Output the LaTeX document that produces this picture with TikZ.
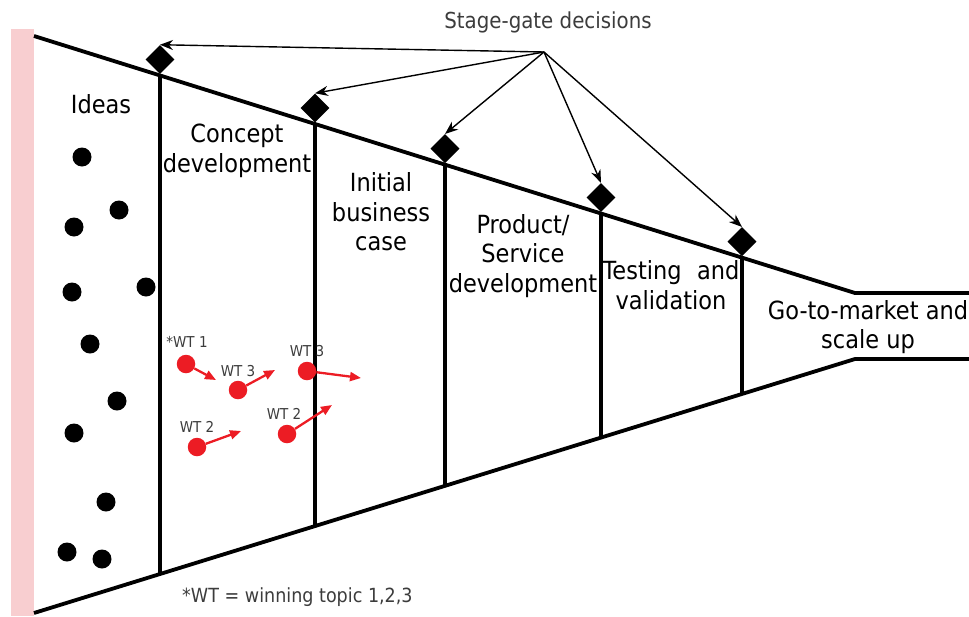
\documentclass[tikz,border=0pt]{standalone}
\usepackage{fontspec}
\setmainfont{DejaVu Sans}[FakeStretch=0.9]
\usetikzlibrary{shapes.geometric,arrows.meta,calc}
\definecolor{barpink}{RGB}{248,206,208}
\definecolor{dotred}{RGB}{236,28,36}
\definecolor{labelgray}{RGB}{60,60,60}
\begin{document}
\begin{tikzpicture}[x=1pt,y=-1pt,
  funnel/.style={line width=3.8pt},
  divider/.style={line width=3.1pt},
  gate/.style={diamond,fill=black,inner sep=0pt,minimum width=29pt,minimum height=29pt},
  idea/.style={circle,fill=black,inner sep=0pt,minimum size=19pt},
  topic/.style={circle,fill=dotred,inner sep=0pt,minimum size=18.5pt},
  topicarrow/.style={dotred,line width=2.3pt,-{Triangle[length=11pt,width=9pt]}},
  gatearrow/.style={line width=1.4pt,-{Stealth[length=13pt,width=10pt]}},
  stage/.style={font=\fontsize{25}{29.5}\selectfont,align=center,inner sep=0pt},
  wt/.style={font=\fontsize{15}{17}\selectfont,text=labelgray,inner sep=0pt}
]
\useasboundingbox (0,0) rectangle (969,616);

% pink edge strip
\fill[barpink] (11,29) rectangle (34,616);

% funnel outline
\coordinate (tA) at (34,36);
\coordinate (tB) at (855,293);
\coordinate (tC) at (969,293);
\coordinate (bA) at (34,613);
\coordinate (bB) at (855,359);
\coordinate (bC) at (969,359);
\draw[funnel] (tA) -- (tB) -- (tC);
\draw[funnel] (bA) -- (bB) -- (bC);

% stage dividers and gate diamonds
\foreach \x/\n in {160/1,315/2,445/3,601/4,742/5}{
  \pgfmathsetmacro{\f}{(\x-34)/821}
  \coordinate (top\n) at ($(tA)!\f!(tB)$);
  \coordinate (bot\n) at ($(bA)!\f!(bB)$);
  \draw[divider] (top\n) -- (bot\n);
  \node[gate] (g\n) at ($(top\n)+(0,-16)$) {};
}

% stage labels
\node[stage] (ideas) at (101,104) {Ideas};
\node[stage] (concept) at (237,151) {Concept\\development};
\node[stage] (business) at (381,212) {Initial\\business\\case};
\node[stage] (product) at (523,256) {Product/\\Service\\development};
\node[stage] (testing) at (671,285) {\makebox[137pt][s]{Testing\hfill and}\\validation};
\node[stage] (market) at (868,327) {Go-to-market and\\scale up};

% stage-gate decisions
\node[font=\fontsize{22}{26}\selectfont,text=labelgray,inner sep=0pt] (sg) at (548,22) {Stage-gate decisions};
\coordinate (hub) at (544,52);
\foreach \n in {1,...,5}{
  \draw[gatearrow] (hub) -- (g\n.north);
}

% ideas
\foreach \x/\y [count=\i] in {82/157,119/210,74/227,72/292,146/287,90/344,117/401,74/433,106/502,67/552,102/559}{
  \node[idea] (idea\i) at (\x,\y) {};
}

% winning topics
\node[topic] (r1) at (186,364) {};
\node[topic] (r2) at (238,390) {};
\node[topic] (r3) at (307,371) {};
\node[topic] (r4) at (197,447) {};
\node[topic] (r5) at (287,434) {};
\coordinate (r1e) at (216,380);
\coordinate (r2e) at (275,370);
\coordinate (r3e) at (361,378);
\coordinate (r4e) at (241,431);
\coordinate (r5e) at (332,405);
\foreach \n in {1,...,5}{
  \draw[topicarrow] (r\n) -- (r\n e);
}
\node[wt] (l1) at (187,342) {*WT 1};
\node[wt] (l2) at (238,371) {WT 3};
\node[wt] (l3) at (307,351) {WT 3};
\node[wt] (l4) at (197,427) {WT 2};
\node[wt] (l5) at (284,414) {WT 2};

% footnote
\node[font=\fontsize{19.5}{23}\selectfont,text=labelgray,inner sep=0pt,anchor=west] (note) at (182,597) {*WT = winning topic 1,2,3};
\end{tikzpicture}
\end{document}
